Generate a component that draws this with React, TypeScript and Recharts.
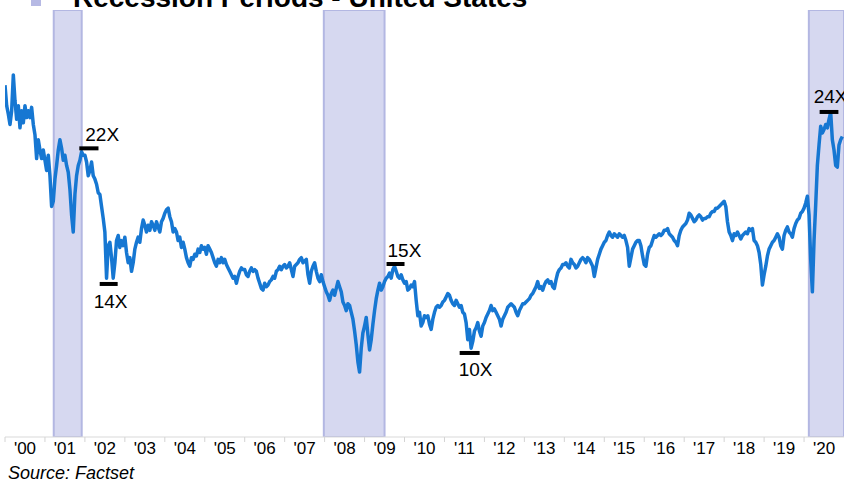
import React from "react";
import {
  LineChart,
  Line,
  XAxis,
  YAxis,
  ReferenceArea,
  ReferenceLine,
} from "recharts";

// forward P/E, two readings per month, Jan 2000 .. Dec 2020
const pe2000 = [25.6, 24.4, 23.9, 23.3, 24.1, 26.2, 24.7, 23.6, 24.4, 23.1, 24.1, 23.4, 24.4, 23.7, 24.1, 23.7, 24.3, 23.3, 22.7, 21.3, 22.4, 21.8, 21.3, 21.8];
const pe2001 = [21.2, 20.6, 21.5, 20.3, 18.5, 18.8, 20.1, 20.9, 21.8, 22.4, 21.9, 21.2, 21.5, 20.9, 20.5, 19.5, 18.0, 17.0, 19.2, 20.3, 20.9, 21.2, 21.7, 21.5];
const pe2002 = [21.5, 21.1, 20.3, 20.6, 21.1, 20.3, 20.1, 19.8, 19.3, 19.2, 18.5, 17.8, 17.0, 14.3, 16.2, 16.4, 15.5, 14.3, 15.2, 16.5, 16.8, 16.1, 16.5, 16.2];
const pe2003 = [16.7, 15.8, 15.2, 15.5, 14.7, 15.2, 16.0, 16.4, 16.7, 16.4, 17.2, 17.7, 17.4, 17.0, 17.4, 17.1, 17.6, 17.4, 17.1, 17.6, 17.3, 17.0, 17.6, 17.8];
const pe2004 = [18.1, 18.3, 18.4, 17.9, 17.6, 17.0, 17.2, 17.0, 16.5, 16.7, 16.1, 16.4, 16.0, 15.5, 15.2, 15.0, 15.5, 15.4, 15.7, 15.6, 16.0, 15.8, 16.2, 16.0];
const pe2005 = [16.1, 15.7, 16.2, 16.0, 15.8, 15.5, 15.2, 15.0, 15.4, 15.2, 15.5, 15.2, 15.4, 15.1, 14.9, 14.7, 14.5, 14.3, 14.4, 14.0, 14.4, 14.7, 14.9, 14.8];
const pe2006 = [14.8, 14.5, 14.4, 14.7, 14.9, 14.7, 14.8, 14.7, 14.3, 14.0, 13.7, 13.6, 14.0, 13.8, 13.9, 14.1, 14.2, 14.4, 14.3, 14.7, 14.8, 15.0, 14.8, 15.0];
const pe2007 = [15.1, 14.9, 15.0, 15.2, 14.8, 14.4, 15.0, 15.1, 15.2, 15.4, 15.5, 15.2, 15.3, 15.4, 14.5, 14.0, 14.7, 15.0, 15.2, 14.7, 14.3, 14.1, 14.5, 14.1];
const pe2008 = [13.8, 13.5, 13.3, 13.0, 13.4, 13.6, 13.3, 13.7, 14.1, 13.8, 13.5, 12.9, 12.7, 12.4, 12.8, 12.7, 12.3, 11.9, 11.2, 10.4, 9.4, 8.8, 10.2, 11.1];
const pe2009 = [11.5, 12.0, 11.0, 10.1, 10.7, 11.6, 12.4, 13.1, 13.6, 14.0, 13.6, 13.8, 14.1, 14.3, 14.4, 14.6, 14.3, 14.8, 15.0, 14.7, 14.4, 14.3, 14.5, 14.2];
const pe2010 = [14.0, 14.1, 13.6, 13.7, 13.9, 13.8, 14.1, 13.0, 12.1, 12.3, 11.5, 11.7, 12.1, 12.0, 12.1, 11.6, 11.3, 11.9, 12.3, 12.6, 12.7, 12.6, 12.7, 12.9];
const pe2011 = [13.0, 13.2, 13.4, 13.3, 13.0, 12.8, 12.7, 13.0, 12.8, 12.6, 12.7, 12.3, 12.2, 11.7, 10.7, 11.3, 10.2, 10.6, 11.2, 11.4, 11.7, 11.2, 10.9, 11.5];
const pe2012 = [11.7, 12.0, 12.2, 12.4, 12.7, 12.4, 12.5, 12.3, 12.1, 11.9, 11.5, 11.9, 12.1, 12.3, 12.6, 12.7, 12.8, 12.7, 12.6, 12.3, 12.1, 12.4, 12.6, 12.8];
const pe2013 = [12.8, 12.9, 13.0, 13.1, 13.3, 13.4, 13.6, 13.8, 14.1, 13.7, 13.8, 13.6, 13.9, 14.1, 14.2, 14.0, 14.1, 13.8, 13.7, 14.2, 14.6, 14.8, 14.9, 15.1];
const pe2014 = [15.1, 15.2, 15.0, 14.9, 15.4, 15.2, 15.1, 14.9, 15.0, 15.2, 15.4, 15.5, 15.4, 15.2, 15.5, 15.4, 15.2, 15.0, 14.4, 14.9, 15.4, 15.7, 16.0, 16.2];
const pe2015 = [16.4, 16.5, 16.8, 17.0, 16.8, 16.7, 16.9, 16.8, 16.7, 16.9, 16.8, 16.7, 16.8, 16.5, 16.1, 15.0, 15.5, 16.0, 16.2, 16.4, 16.5, 16.5, 16.2, 15.6];
const pe2016 = [15.1, 15.0, 15.7, 16.1, 16.2, 16.5, 16.8, 16.7, 16.8, 16.9, 16.8, 16.9, 17.1, 17.1, 17.2, 16.9, 16.8, 16.7, 16.5, 16.4, 16.2, 16.8, 17.1, 17.3];
const pe2017 = [17.4, 17.5, 17.7, 18.1, 18.0, 17.8, 17.6, 17.7, 17.9, 18.0, 17.9, 17.7, 17.8, 17.8, 17.9, 17.9, 18.1, 18.2, 18.2, 18.4, 18.4, 18.5, 18.6, 18.7];
const pe2018 = [18.8, 18.5, 17.6, 17.0, 16.8, 16.5, 16.9, 16.8, 17.0, 16.8, 16.6, 16.8, 16.9, 17.0, 16.9, 17.2, 17.1, 17.2, 16.5, 16.4, 16.2, 15.8, 15.1, 13.9];
const pe2019 = [14.5, 15.0, 15.6, 16.0, 16.2, 16.4, 16.5, 16.7, 16.9, 16.7, 16.2, 16.0, 16.8, 17.1, 17.3, 17.0, 16.9, 16.7, 17.2, 17.5, 17.7, 17.8, 18.1, 18.2];
const pe2020 = [18.4, 18.7, 19.1, 18.0, 15.4, 13.5, 16.5, 18.6, 20.9, 22.1, 23.2, 22.8, 23.0, 23.3, 23.1, 23.6, 24.0, 22.4, 21.8, 20.9, 20.8, 22.1, 22.4, 22.6];

const peByYear = [
  pe2000, pe2001, pe2002, pe2003, pe2004, pe2005, pe2006, pe2007, pe2008, pe2009, pe2010,
  pe2011, pe2012, pe2013, pe2014, pe2015, pe2016, pe2017, pe2018, pe2019, pe2020,
];
const firstYear = 2000;

const yearLabels = [
  "'00", "'01", "'02", "'03", "'04", "'05", "'06", "'07", "'08", "'09", "'10",
  "'11", "'12", "'13", "'14", "'15", "'16", "'17", "'18", "'19", "'20",
];

// recessions (fractional years)
const recessionStart = [2001.22, 2007.98, 2020.12];
const recessionEnd = [2001.92, 2009.5, 2021];

// annotated levels
const annLabels = ["22X", "14X", "15X", "10X", "24X"];
const annFrom = [2001.86, 2002.37, 2009.55, 2011.38, 2020.39];
const annTo = [2002.34, 2002.82, 2010.0, 2011.88, 2020.86];
const annValue = [21.9, 13.96, 15.13, 9.92, 24.03];

// label offsets from bar's left end (px)
const annDx = [6, -6, 1, -1, -6];
const annDy = [-7, 24, -7, 23, -9];

const data = peByYear.flatMap((vals, yi) =>
  vals.map((v, i) => ({ t: firstYear + yi + i / vals.length, pe: v }))
);
const yearTicks = yearLabels.map((_, i) => firstYear + i + 0.5);

const W = 844;
const H = 482;
const FONT = '"Liberation Sans", Arial, sans-serif';
const HALF_YEAR_PX = (W - 5) / 21 / 2;

function YearTick(props: any) {
  const { x, y, index } = props;
  return (
    <g>
      <line x1={x - HALF_YEAR_PX} x2={x - HALF_YEAR_PX} y1={y} y2={y + 5} stroke="#d4d4d4" />
      <text x={x} y={y + 17} textAnchor="middle" fontSize={17} fontFamily={FONT} fill="#000">
        {yearLabels[index]}
      </text>
    </g>
  );
}

export default function App() {
  return (
    <div
      style={{
        position: "absolute",
        left: 0,
        top: 0,
        width: W,
        height: H,
        overflow: "hidden",
        background: "#fff",
        fontFamily: FONT,
      }}
    >
      <LineChart
        width={W}
        height={H}
        data={data}
        margin={{ top: 10, right: 0, left: 5, bottom: 15 }}
      >
        <XAxis
          dataKey="t"
          type="number"
          domain={[2000, 2021]}
          ticks={yearTicks}
          interval={0}
          tickLine={false}
          tickSize={0}
          tickMargin={0}
          height={30}
          axisLine={{ stroke: "#d9d9d9" }}
          tick={<YearTick />}
          allowDataOverflow
        />
        <XAxis
          xAxisId="top"
          orientation="top"
          dataKey="t"
          type="number"
          domain={[2000, 2021]}
          tick={false}
          tickLine={false}
          height={0}
          axisLine={{ stroke: "#e3e3e3" }}
        />
        <YAxis
          type="number"
          domain={[5, 30]}
          width={0}
          tick={false}
          tickLine={false}
          axisLine={{ stroke: "#e3e3e3" }}
          allowDataOverflow
        />
        {recessionStart.map((s, i) => (
          <ReferenceArea
            key={"r" + i}
            x1={s}
            x2={recessionEnd[i]}
            fill="#d6d8f0"
            fillOpacity={1}
            stroke="#b3b7e2"
            strokeWidth={2}
            ifOverflow="hidden"
          />
        ))}
        <Line
          type="linear"
          dataKey="pe"
          stroke="#1677d2"
          strokeWidth={3.5}
          strokeLinejoin="round"
          dot={false}
          activeDot={false}
          isAnimationActive={false}
        />
        {annLabels.map((lab, i) => (
          <ReferenceLine
            key={"a" + i}
            segment={[
              { x: annFrom[i], y: annValue[i] },
              { x: annTo[i], y: annValue[i] },
            ]}
            stroke="#000"
            strokeWidth={4}
            ifOverflow="visible"
            label={(p: any) => (
              <text
                x={p.viewBox.x + annDx[i]}
                y={p.viewBox.y + annDy[i]}
                fontSize={19}
                fontFamily={FONT}
                fill="#000"
              >
                {lab}
              </text>
            )}
          />
        ))}
      </LineChart>
      <svg
        width={W}
        height={H}
        style={{ position: "absolute", left: 0, top: 0, pointerEvents: "none" }}
      >
        <rect x={31} y={-4} width={10} height={10} fill="#b6b9e4" />
        <text x={73} y={7} fontSize={28} fontWeight="bold" fontFamily={FONT} fill="#000">
          Recession Periods - United States
        </text>
        <text x={8} y={479} fontSize={18} fontStyle="italic" fontFamily={FONT} fill="#000">
          Source: Factset
        </text>
      </svg>
    </div>
  );
}
